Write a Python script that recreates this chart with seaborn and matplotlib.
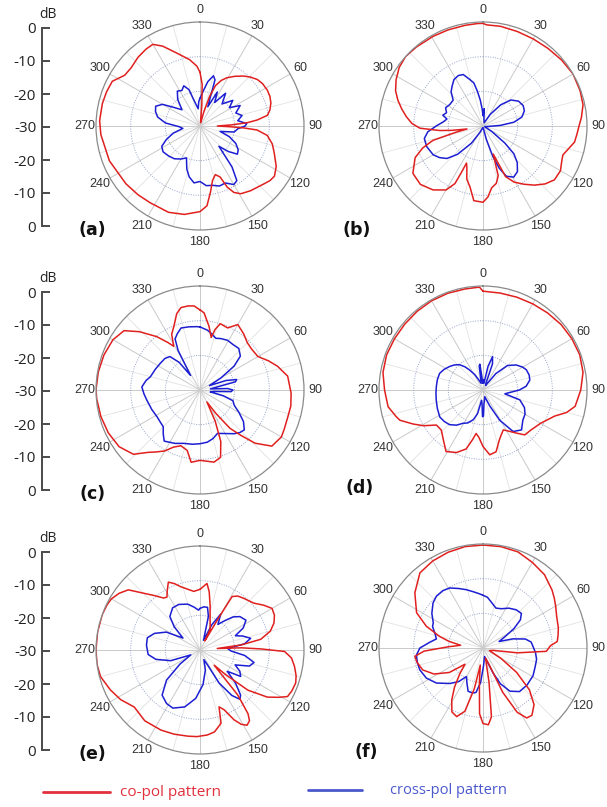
import numpy as np
import pandas as pd
import matplotlib
matplotlib.use("Agg")
import matplotlib.pyplot as plt
import seaborn as sns
from matplotlib.lines import Line2D

sns.set_theme(style="white", context="paper")
plt.rcParams["font.family"] = ["Liberation Sans", "DejaVu Sans"]

# ---------------- data: (angle deg, level dB) ----------------
a_co = [(0,-14.5),(3,-18),(5,-24),(8,-29),(12,-29),(15,-26),(18,-21),(21,-17.5),(25,-15.5),(29,-14.1),
        (35,-12.5),(41,-10.9),(46,-9.7),(51,-8.7),(56,-8.2),(62,-8),(67,-8.1),(72,-8.5),(77,-9.3),(81,-10.3),
        (84,-13.4),(86,-16.3),(88,-21),(90,-25),(91.5,-21),(92.5,-17.4),(94,-13.5),(98,-10.4),(104,-8.5),
        (110,-7.2),(118,-5.1),(124,-4.1),(128,-4.4),(132,-5.1),(142,-6.3),(149,-7.2),(153,-8.5),(156,-10.7),
        (158.5,-14.2),(162.5,-15.3),(167,-13.9),(171,-10.7),(175,-6.9),(180,-5.3),(190,-4.1),(200,-3.5),
        (213,-3.6),(222,-3.3),(232,-2.9),(249,-2.0),(265,-1.3),(273,-1.0),(283,-1.1),(290,-1.3),(297,-1.6),
        (304,-3.8),(310,-4),(318,-3.3),(325,-2.9),(330,-2.8),(335,-4.6),(342,-7.8),(351,-10.6),(357,-12.7)]
a_cx = [(0,-22),(5,-20),(10,-17),(15,-15),(18,-16),(22,-24),(27,-19),(32,-22),(38,-18),(45,-21),(52,-18),
        (58,-20),(63,-17),(70,-19),(76,-17.5),(82,-19),(87,-16.5),(90,-17),(94,-19),(100,-20),(105,-24),
        (110,-21),(116,-18.5),(122,-17),(127,-16.5),(132,-19),(137,-22),(142,-15),(146,-11),(150,-10.5),
        (156,-12),(162,-11.8),(168,-12.5),(174,-12.7),(180,-14),(186,-13.5),(192,-15),(197,-17),(203,-20),
        (210,-19),(218,-18),(226,-17.5),(235,-17),(242,-17.5),(248,-19.5),(255,-22),(262,-25),(268,-24),
        (275,-20),(282,-17.5),(288,-16.5),(294,-16),(300,-17.5),(306,-21),(312,-23),(320,-20),(327,-18),
        (333,-18.5),(338,-17.5),(343,-19),(348,-23),(354,-25),(357,-23)]

b_co = [(0,-0.4),(2,-0.8),(10,-0.8),(20,-1),(30,-1),(40,-0.8),(50,-0.4),(60,0),(70,-0.2),(78,-0.5),
        (85,-1.5),(90,-2.3),(95,-2.8),(100,-3.2),(105,-4.5),(110,-5.5),(115,-5),(120,-4.2),(127,-4.2),
        (133,-5.5),(139,-7.4),(145,-9.5),(151,-11.5),(156,-14),(160,-21.4),(163,-15),(167,-13),(172,-12),
        (176,-9.5),(180,-8),(187,-8.3),(192,-12),(197,-14),(201,-17),(204,-18.3),(205,-15),(206,-11.5),
        (210,-8.7),(218,-6.6),(227,-5.3),(236,-5.6),(245,-8.4),(250,-11.5),(254,-15),(257,-22),(259.5,-25.3),
        (262,-21),(264,-17.5),(268,-11.8),(272,-9.5),(277,-7.7),(282,-6),(287,-4.3),(292,-2.8),(298,-1.6),
        (305,-0.5),(312,0),(320,-0.2),(331,-0.4),(340,-0.5),(350,-0.5),(357,-0.4)]
b_cx = [(0,-27),(4,-25),(8,-28),(20,-29),(32,-26),(40,-22),(47,-19),(55,-17.5),(63,-17),(70,-17.3),
        (77,-18.5),(83,-21),(88,-25),(95,-28.5),(110,-29.5),(122,-27),(128,-22),(132,-18),(137,-15.5),
        (143,-13.5),(149,-12.8),(155,-14),(159,-17),(162,-20.6),(166,-26),(175,-29.5),(190,-29.5),(205,-28),
        (214,-24),(222,-19),(228,-16),(234,-14.5),(240,-13.4),(250,-12.7),(258,-12.7),(264,-14),(270,-16.5),
        (276,-18.5),(281,-19.4),(285,-18),(290,-18.8),(296,-18),(303,-18.6),(311,-18.6),(317,-16.5),
        (322,-15.5),(328,-14.2),(334,-13.8),(339,-14.1),(344,-16),(348,-17.3),(351,-20),(354,-22.5),(357,-25)]

c_co = [(0,-6.9),(3,-7.7),(8,-11.4),(12,-14.5),(14,-12),(17,-10),(24,-10.4),(30,-8.2),(38,-9.5),(45,-10.7),
        (52,-11),(60,-10.7),(67,-8.5),(73,-6.6),(81,-4.4),(92,-3.7),(100,-3.4),(107,-3.5),(115,-3.2),
        (120,-2.9),(128,-3.7),(134,-7.9),(138,-12.4),(142,-16),(146,-22),(150,-26),(154,-20),(158,-14),
        (163,-9.7),(169,-8.8),(175,-9.4),(180,-9.7),(187,-9),(192,-12.2),(199,-13),(205,-11.8),(210,-9.7),
        (215,-8.2),(220,-6.5),(226,-3.3),(235,-1.5),(245,-0.8),(255,-0.4),(265,-0.1),(270,0),(280,-0.2),
        (290,-0.5),(300,-1),(308,-2.2),(314,-5.8),(321,-10.2),(326,-13.5),(329,-15.3),(333,-12),(338,-10),
        (343,-7),(347,-5.6),(352,-5.5),(356,-5.7)]
c_cx = [(0,-11.8),(7,-12.6),(12,-13.5),(17,-14.4),(22,-14),(29,-13.6),(36,-13.8),(43,-13.6),(50,-14.8),
        (55,-18),(60,-23),(65,-27),(70,-22),(74,-19),(77,-19.5),(80,-25),(84,-27),(87,-22),(90,-20.5),
        (93,-21),(96,-26),(100,-27),(104,-23),(108,-20),(114,-19.2),(120,-17),(126,-14.5),(132,-12.8),
        (137,-13.2),(142,-14),(150,-15.5),(158,-16.5),(165,-15.5),(172,-14.8),(180,-14.5),(188,-14.2),
        (197,-13.9),(205,-13),(215,-12),(220,-13.5),(225,-15),(232,-15.3),(238,-15.4),(248,-15),(259,-14.4),
        (266,-13.8),(273,-13.2),(280,-14.2),(285,-15.2),(295,-15.8),(304,-16.2),(312,-16.4),(318,-17),
        (323,-20),(327,-25),(331,-17),(334,-13.6),(338,-12.5),(343,-11.3),(350,-11.5),(357,-11.7)]

d_co = [(0,-1.5),(10,-1.6),(20,-1.5),(30,-1.3),(40,-1),(50,-0.6),(60,-0.4),(70,-0.3),(80,-0.7),(90,-1.8),
        (100,-3),(105,-5),(110,-8),(120,-10.8),(130,-12),(137,-12.3),(142,-14.2),(148,-16),(153,-17.1),
        (158,-16),(162,-14.8),(168,-11.8),(174,-11.2),(180,-13.7),(185,-16.3),(189,-17.3),(192,-15.3),
        (196,-12.3),(203,-10.4),(211,-9.3),(218,-11.5),(226,-13.3),(233,-13.2),(239,-10),(244,-7.6),
        (250,-4.5),(253,-3.8),(260,-2.2),(270,-1.6),(280,-0.7),(290,-0.4),(300,-0.5),(310,-0.5),(320,-0.4),
        (330,-0.3),(340,-0.3),(350,-0.4),(358,-0.3)]
d_cx = [(0,-28),(4,-27),(8,-28),(12,-23),(16,-20),(20,-22),(24,-28),(30,-28.5),(38,-24),(45,-20),(53,-18),
        (60,-16.8),(65,-16.2),(72,-16),(78,-16.2),(85,-17.5),(90,-19.5),(96,-22.5),(100,-23.6),(105,-19),
        (113,-17),(120,-16),(127,-15.6),(136,-14),(144,-15.2),(151,-20),(157,-25),(165,-28),(172,-27),
        (176,-26),(179,-22.5),(181,-22.3),(184,-26),(188,-27),(193,-23),(198,-21),(205,-19.5),(211,-18.8),
        (217,-17.3),(224,-16.1),(231,-15.6),(238,-15.3),(248,-15.8),(258,-16.2),(266,-16.4),(274,-16.5),
        (283,-16.5),(291,-16.6),(298,-17.3),(305,-18.2),(311,-19),(317,-20),(322,-21.5),(326,-23),(332,-25),
        (338,-27),(344,-28),(348,-27),(351,-23),(353,-22.5),(355,-26),(358,-28)]

e_co = [(0,-12.5),(6,-10.7),(9,-13),(13,-17),(18,-20.6),(22,-22.2),(26,-23.4),(28,-27),(30,-20),(31,-12),
        (35,-11),(40,-10.5),(49,-9.4),(55,-7.5),(60,-6),(65,-6.3),(70,-7.3),(75,-9),(80,-12.2),(83,-18),
        (85,-25),(87,-18),(89,-12.4),(91,-5.6),(95,-3.5),(100,-2.3),(105,-1.3),(109,-0.8),(114,-1),(118,-1.4),
        (121,-3.5),(125,-6.3),(130,-12),(134,-20),(137,-24),(140,-13),(143,-7),(145,-5.1),(148,-4.4),
        (151,-5.5),(154,-7.6),(158,-11.4),(161.5,-12.7),(164,-8),(170,-6),(175,-5.4),(182,-5),(188,-4.9),
        (197,-4.6),(206,-4.3),(218,-4.1),(229,-4.9),(238,-3),(246,-1.7),(255,-0.3),(262,0),(270,0),(280,0),
        (290,0),(296,-0.2),(300,-0.5),(305,-1.5),(310,-3),(315,-6.8),(320,-9.5),(325,-11.7),(328,-12),
        (331,-10.5),(335,-8.4),(339,-9.5),(343,-10.9),(348,-12),(354,-13)]
e_cx = [(0,-18),(5,-17.5),(10,-17.5),(14,-20),(20,-27),(25,-22),(30,-18),(35,-21),(40,-19),(45,-16.5),
        (50,-15),(57,-14.2),(63,-16),(68,-19),(72,-17),(77,-15),(82,-17),(87,-22),(92,-21),(97,-17),
        (103,-14),(108,-15),(113,-19),(118,-17),(123,-16),(128,-20),(133,-16),(138,-12.5),(141,-11.7),
        (145,-14),(150,-19),(153,-25),(158,-27),(165,-24),(175,-20),(185,-16),(195,-13),(205,-11.5),
        (212,-11.8),(220,-13),(228,-17),(235,-23),(242,-27),(250,-21),(258,-17),(265,-15),(275,-14.5),
        (283,-14.4),(290,-16),(298,-19),(305,-24),(312,-20),(318,-17),(327,-15.5),(335,-15.5),(345,-16.3),
        (352,-17.5),(358,-18.5)]

f_co = [(0,-0.3),(10,-0.3),(20,-0.5),(30,-1.5),(40,-2.4),(50,-4),(55,-4.9),(60,-5.8),(67,-6.9),(75,-7.5),
        (80,-8),(85,-8.5),(88,-10.5),(93,-11.7),(98,-20),(103,-27),(112,-28),(120,-24),(126,-18),(132,-12),
        (138,-8),(144,-6),(148,-6.2),(152,-9),(156,-16),(160,-25),(166,-27),(170,-20),(173,-10),(176,-7.8),
        (180,-8.2),(183,-11),(186,-20),(189,-25),(192,-18),(196,-11),(201,-8.8),(206,-9.5),(211,-12.5),
        (216,-16),(222,-20),(228,-23),(234,-18),(242,-14),(250,-11.5),(258,-10.5),(263,-10.2),(267,-13),
        (272,-20),(277,-23.5),(281,-20),(285,-17),(291,-12.5),(298,-8.3),(309,-4.7),(320,-1.7),(330,-1),
        (340,-0.6),(350,-0.3)]
f_cx = [(0,-14.8),(5,-15.3),(10,-16.5),(18,-17.9),(25,-17.5),(33,-16.3),(41,-15.4),(48,-15.1),(53,-16.5),
        (58,-19.5),(63,-23),(68,-25),(73,-21),(78,-17.5),(83,-16),(88,-15.6),(95,-14.8),(102,-14.2),
        (110,-14),(119,-13.5),(130,-13.4),(140,-13.6),(148,-15.3),(154,-18.5),(158,-22.2),(163,-26),
        (170,-27.5),(178,-25),(184,-20),(189,-17),(193,-16.7),(199,-16.8),(205,-19),(210,-20.5),(216,-18),
        (223,-16),(233,-13.2),(242,-11.5),(251,-10.7),(258,-10.6),(264,-10.7),(270,-11.8),(276,-14.5),
        (281,-16.3),(287,-15.5),(293,-14.2),(297,-13.9),(304,-12.2),(312,-10.6),(318,-9.9),(325,-9.8),
        (331,-10.2),(338,-11.5),(344,-12.5),(350,-13.5),(356,-14.3)]

panel_letters = ["(a)", "(b)", "(c)", "(d)", "(e)", "(f)"]
angle_labels = ["0", "30", "60", "90", "120", "150", "180", "210", "240", "270", "300", "330"]
scale_labels = ["0", "-10", "-20", "-30", "-20", "-10", "0"]
legend_labels = ["co-pol pattern", "cross-pol pattern"]
db_floor = -30

# ---------------- layout (pixels) ----------------
W, H = 607, 807
RED, BLUE = "#e0201e", "#1c1ed2"
fig = plt.figure(figsize=(W / 100, H / 100), dpi=100)

centers = [(200, 126), (483, 126), (200, 390), (483, 390), (200, 650), (483, 648)]
letter_pos = [(92, 230), (357, 230), (93, 494), (360, 488), (92, 754), (366, 752)]
R = 104


def to_frame(pairs):
    ang = [p[0] for p in pairs] + [pairs[0][0] + 360]
    lev = [p[1] for p in pairs] + [pairs[0][1]]
    return pd.DataFrame({"theta": np.deg2rad(ang),
                         "r": np.clip(np.array(lev) - db_floor, 0, None)})


curves = [(a_co, a_cx), (b_co, b_cx), (c_co, c_cx), (d_co, d_cx), (e_co, e_cx), (f_co, f_cx)]

for i, ((co, cx), (xc, yc)) in enumerate(zip(curves, centers)):
    ax = fig.add_axes([(xc - R) / W, 1 - (yc + R) / H, 2 * R / W, 2 * R / H], projection="polar")
    ax.set_theta_zero_location("N")
    ax.set_theta_direction(-1)
    # light 15-degree spokes
    for t in range(15, 360, 30):
        ax.plot([np.deg2rad(t)] * 2, [0, -db_floor], color="#e2e2e2", lw=0.6, zorder=0.5)
    sns.lineplot(data=to_frame(cx), x="theta", y="r", ax=ax, color=BLUE, lw=1.1,
                 sort=False, estimator=None, legend=False)
    sns.lineplot(data=to_frame(co), x="theta", y="r", ax=ax, color=RED, lw=1.1,
                 sort=False, estimator=None, legend=False)
    ax.set_xlabel("")
    ax.set_ylabel("")
    ax.set_ylim(0, -db_floor)
    ax.set_yticks([10, 20])
    ax.set_yticklabels([])
    ax.set_thetagrids(np.arange(0, 360, 30), angle_labels)
    ax.xaxis.grid(True, color="#c9c9c9", lw=0.7, ls="-")
    ax.yaxis.grid(True, color="#97a3cc", lw=0.7, ls=(0, (1, 1.5)))
    ax.spines["polar"].set_color("#8a8a8a")
    ax.spines["polar"].set_linewidth(0.9)
    ax.tick_params(axis="x", pad=-3.5, labelsize=9, colors="#333333")
    ax.set_facecolor("none")
    lx, ly = letter_pos[i]
    fig.text(lx / W, 1 - ly / H, panel_letters[i], fontsize=12.5, fontweight="bold",
             ha="center", va="center", color="#111111", family=["DejaVu Sans"])

# dB scale bars on the left of each row
for yc in (127, 391, 651):
    half = 99
    sa = fig.add_axes([41.7 / W, 1 - (yc + half) / H, 10 / W, 2 * half / H])
    sa.set_ylim(0, len(scale_labels) - 1)
    sa.set_yticks(range(len(scale_labels)))
    sa.set_yticklabels(scale_labels)
    sa.set_xticks([])
    for s in ("top", "right", "bottom"):
        sa.spines[s].set_visible(False)
    sa.spines["left"].set_color("#4a4a4a")
    sa.spines["left"].set_linewidth(1.4)
    sa.tick_params(axis="y", direction="in", length=6, width=1.4, color="#4a4a4a",
                   labelsize=11, labelcolor="#222222", pad=4, left=True)
    for t in sa.get_yticklabels():
        t.set_family(["Open Sans", "DejaVu Sans"])
    sa.set_facecolor("none")
    fig.text(48 / W, 1 - (yc - half - 13) / H, "dB", fontsize=10, ha="center", va="center",
             color="#222222", family=["Open Sans", "DejaVu Sans"])

# legend at the bottom
fig.add_artist(Line2D([43 / W, 110 / W], [1 - 792 / H] * 2, color="#e2303c", lw=2.0))
fig.text(120 / W, 1 - 792 / H, legend_labels[0], color="#e2303c", fontsize=11, va="center",
         family=["Open Sans", "DejaVu Sans"])
fig.add_artist(Line2D([308 / W, 362 / W], [1 - 790 / H] * 2, color="#4a58cc", lw=2.0))
fig.text(390 / W, 1 - 790 / H, legend_labels[1], color="#4a58cc", fontsize=10.5, va="center",
         family=["Open Sans", "DejaVu Sans"])

fig.savefig("out.png", dpi=100, facecolor="white")
